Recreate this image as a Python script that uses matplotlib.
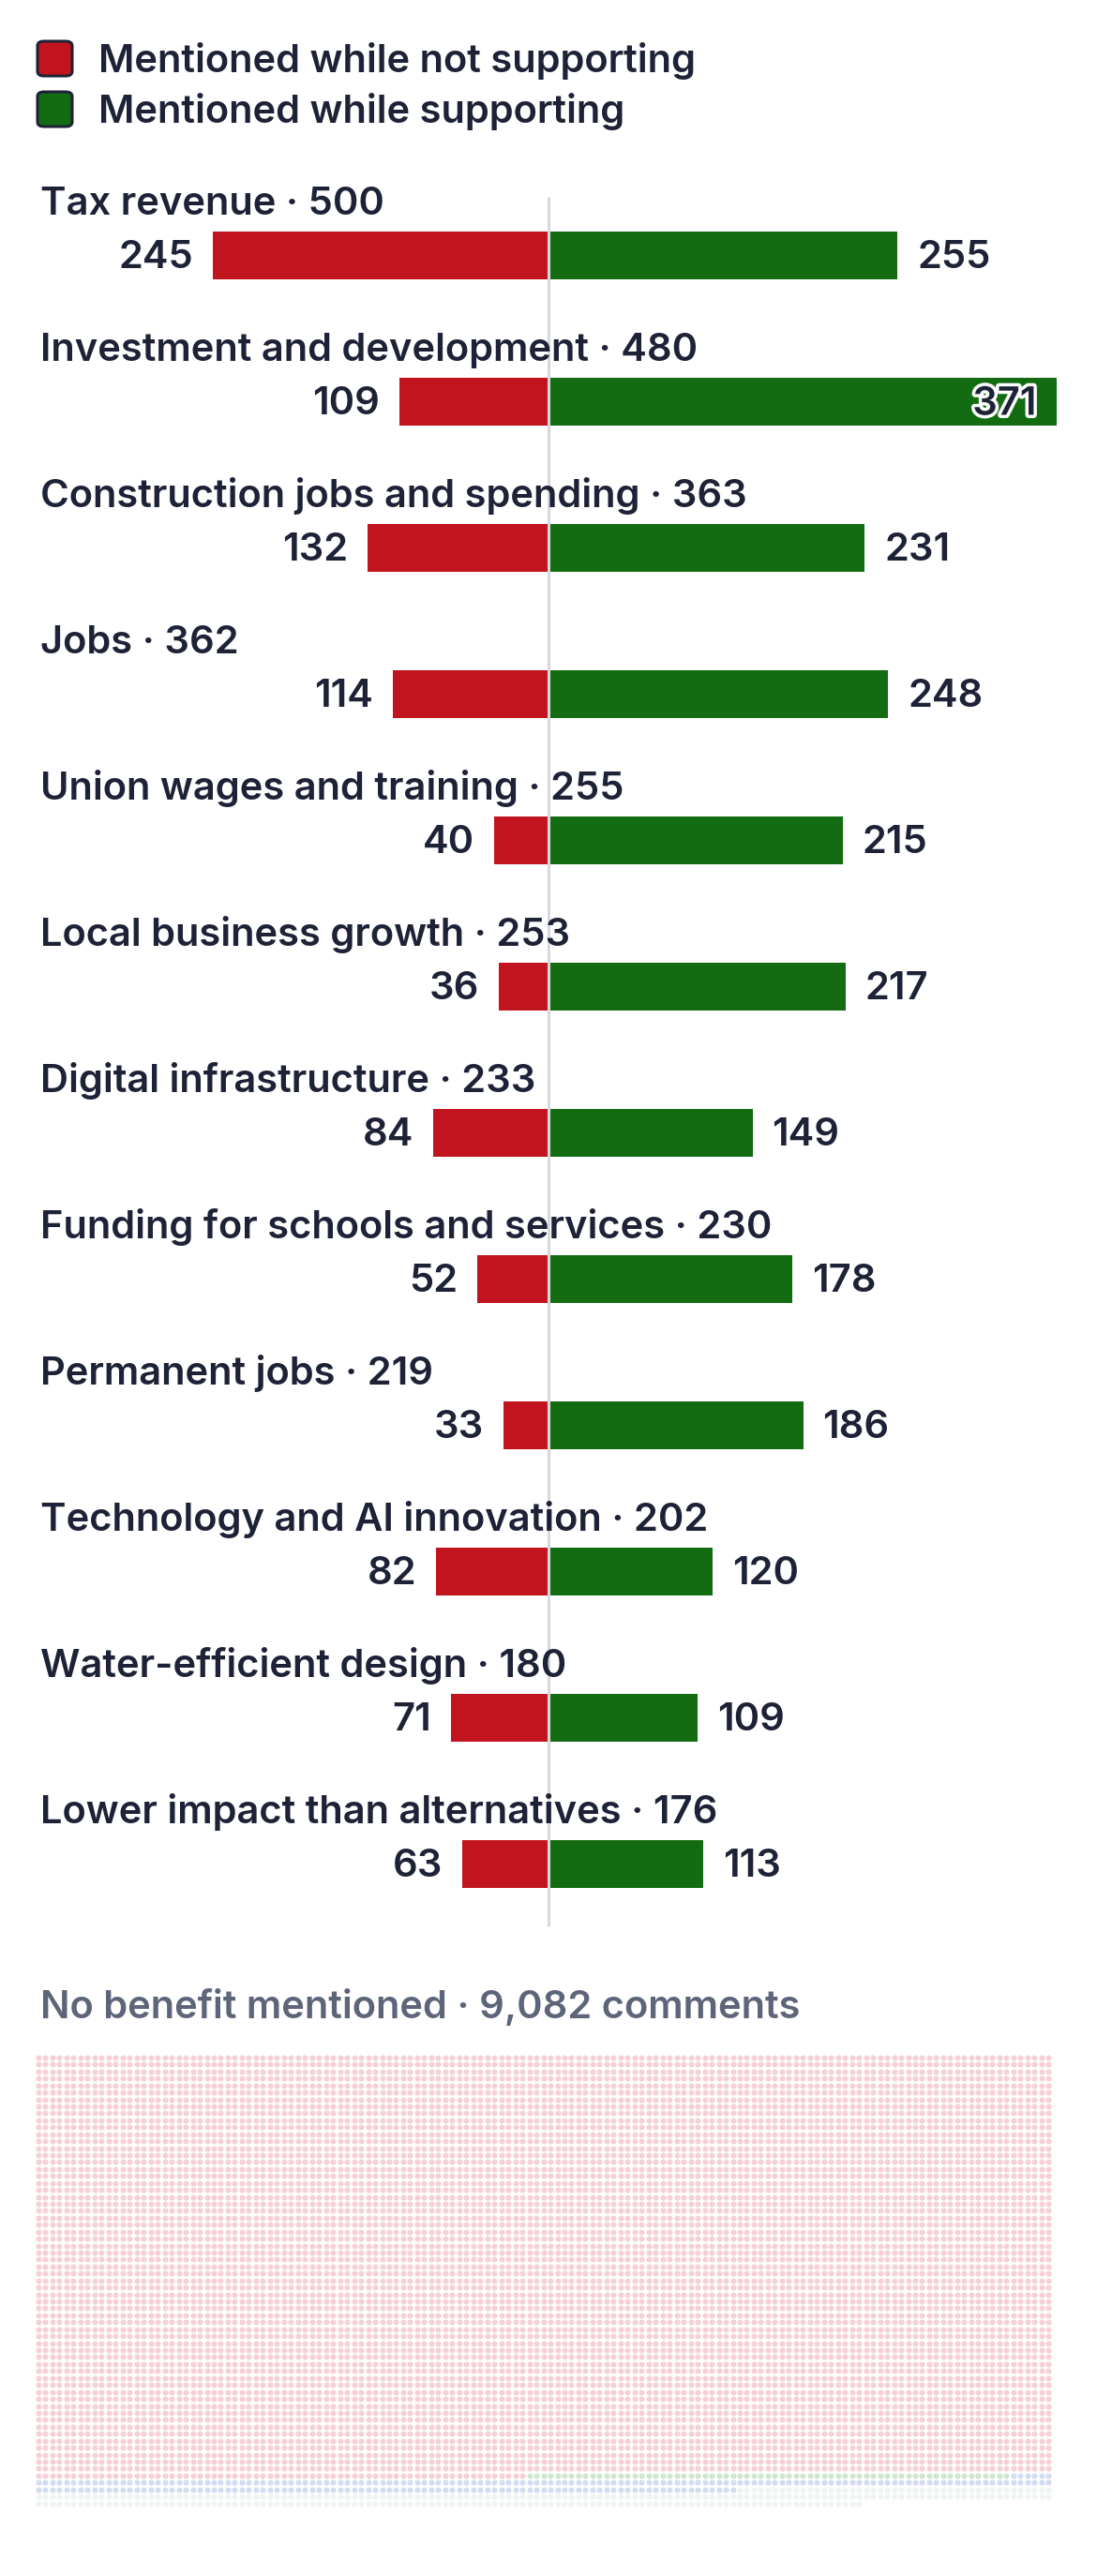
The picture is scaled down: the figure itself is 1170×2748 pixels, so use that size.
import matplotlib
matplotlib.use("Agg")
import matplotlib.pyplot as plt
import matplotlib.patheffects as pe
from matplotlib.patches import FancyBboxPatch
import numpy as np

# ---------------- data ----------------
categories = ["Tax revenue", "Investment and development", "Construction jobs and spending",
              "Jobs", "Union wages and training", "Local business growth",
              "Digital infrastructure", "Funding for schools and services", "Permanent jobs",
              "Technology and AI innovation", "Water-efficient design",
              "Lower impact than alternatives"]
not_supporting = [245, 109, 132, 114, 40, 36, 84, 52, 33, 82, 71, 63]
supporting = [255, 371, 231, 248, 215, 217, 149, 178, 186, 120, 109, 113]
legend_labels = ["Mentioned while not supporting", "Mentioned while supporting"]

no_benefit_total = 9082
dot_groups = ["not supporting", "supporting", "neutral", "unclear"]
dot_counts = [8770, 69, 251, 308]

# ---------------- style ----------------
RED = "#c2141f"
GREEN = "#146c12"
INK = "#1e2236"
GREY_TXT = "#5d6579"
LINE = "#d6d8dd"
DOT_COLORS = ["#f6cfd7", "#cfe7cf", "#d2dcf2", "#eef4ef"]
FONT = ["Inter", "DejaVu Sans"]
FS = 30
WEIGHT = "semibold"

W, H = 1170, 2748
DPI = 100
fig = plt.figure(figsize=(W / DPI, H / DPI), dpi=DPI)
fig.patch.set_facecolor("white")
ax = fig.add_axes([0, 0, 1, 1])

CENTER_PX = 585.0
PX_PER_UNIT = 1.46
xmin = -CENTER_PX / PX_PER_UNIT
xmax = (W - CENTER_PX) / PX_PER_UNIT
ax.set_xlim(xmin, xmax)
ax.set_ylim(H, 0)
ax.axis("off")


def px(xp):
    return (xp - CENTER_PX) / PX_PER_UNIT


# legend
for i, (lab, col) in enumerate(zip(legend_labels, [RED, GREEN])):
    top = 42 + i * 54
    box = FancyBboxPatch((px(40), top + 2), 37 / PX_PER_UNIT, 37,
                         boxstyle="round,pad=0,rounding_size=0.01",
                         facecolor=col, edgecolor=INK, linewidth=2.2, zorder=3)
    box.set_boxstyle("round", pad=0, rounding_size=7 / PX_PER_UNIT)
    ax.add_patch(box)
    ax.text(px(105), top + 35, lab, fontsize=FS, family=FONT, fontweight=WEIGHT,
            color=INK, va="baseline", ha="left")

# bars
first_center = 272.0
step = 156.0
bar_h = 51
centers = [first_center + i * step for i in range(len(categories))]
ax.barh(centers, [-v for v in not_supporting], height=bar_h, color=RED, zorder=2)
ax.barh(centers, supporting, height=bar_h, color=GREEN, zorder=2)

# center line
ax.plot([0, 0], [210, 2055], color=LINE, lw=2.2, zorder=4, solid_capstyle="butt")

gap = 21 / PX_PER_UNIT
for c, cat, ns, s in zip(centers, categories, not_supporting, supporting):
    tot = ns + s
    ax.text(px(43), c - 43, f"{cat} \u00b7 {tot}", fontsize=FS, family=FONT,
            fontweight=WEIGHT, color=INK, va="baseline", ha="left", zorder=5)
    ax.text(-ns - gap, c + 14.5, f"{ns}", fontsize=FS, family=FONT, fontweight=WEIGHT,
            color=INK, va="baseline", ha="right", zorder=5)
    end_px = CENTER_PX + s * PX_PER_UNIT
    if end_px + 21 + 80 > W:
        ax.text(s - gap, c + 14.5, f"{s}", fontsize=FS, family=FONT, fontweight=WEIGHT,
                color=INK, va="baseline", ha="right", zorder=5,
                path_effects=[pe.withStroke(linewidth=5, foreground="white")])
    else:
        ax.text(s + gap, c + 14.5, f"{s}", fontsize=FS, family=FONT, fontweight=WEIGHT,
                color=INK, va="baseline", ha="left", zorder=5)

# no benefit header
ax.text(px(43), 2153, f"No benefit mentioned \u00b7 {no_benefit_total:,} comments",
        fontsize=FS, family=FONT, fontweight=WEIGHT, color=GREY_TXT,
        va="baseline", ha="left")

# dot grid
COLS = 145
x0, y0 = 41.0, 2195.0
dx, dy = 7.48, 7.43
idx = 0
for cnt, col in zip(dot_counts, DOT_COLORS):
    k = np.arange(idx, idx + cnt)
    cx = x0 + (k % COLS) * dx
    cy = y0 + (k // COLS) * dy
    ax.scatter(px(cx), cy, s=19, color=col, marker="o", linewidths=0, zorder=2)
    idx += cnt

fig.savefig("out.png", dpi=DPI, facecolor="white")
